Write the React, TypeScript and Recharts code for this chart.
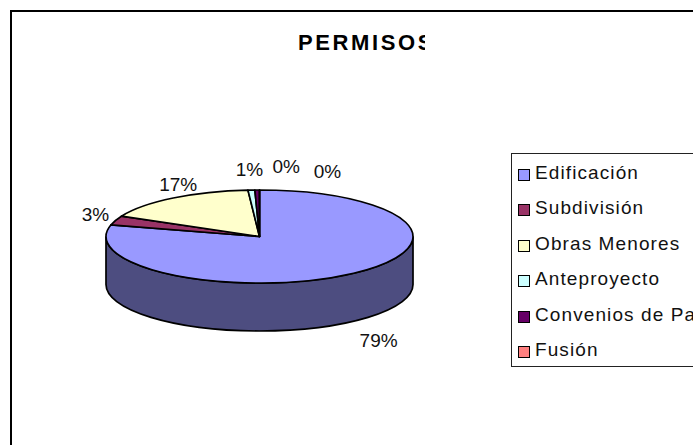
import { PieChart, Pie, Legend } from 'recharts';

const categories = ['Edificación', 'Subdivisión', 'Obras Menores', 'Anteproyecto', 'Convenios de Pa', 'Fusión'];
const shares = [79, 3.2, 16.6, 0.72, 0.48, 0];
const colors = ['#9999FF', '#993366', '#FFFFCC', '#CCFFFF', '#660066', '#FF8080'];

// how far each percent label sits from its slice edge, excel spreads the small ones out
const labelNudgeX = [25, -20, 5, -2, 29, 68];
const labelNudgeY = [67, -6, -14, -21, -24, -19];

const tableData = categories.map((name, i) => ({ name, value: shares[i], fill: colors[i] }));

const FONT = '"Liberation Sans", Arial, sans-serif';
const TILT = 46.5 / 153.5;
const DEPTH = 48;
const WALL = '#4D4D80';

const RAD = Math.PI / 180;
const ptX = (cx: number, r: number, a: number) => cx + r * Math.cos(a * RAD);
const ptY = (cy: number, r: number, a: number) => cy - r * TILT * Math.sin(a * RAD);

const FlatSlice = (props: any) => {
  const { cx, cy, outerRadius: r, startAngle, endAngle, fill } = props;
  const ry = r * TILT;
  const large = Math.abs(startAngle - endAngle) > 180 ? 1 : 0;
  const top = `M${cx},${cy} L${ptX(cx, r, startAngle)},${ptY(cy, r, startAngle)} A${r},${ry} 0 ${large} 1 ${ptX(cx, r, endAngle)},${ptY(cy, r, endAngle)} Z`;

  // the wall is only seen along the front half of the ellipse (180..360 going clockwise = -180..0)
  const from = Math.min(startAngle, 0);
  const to = Math.max(endAngle, -180);
  let wall = null;
  if (from > to) {
    const x1 = ptX(cx, r, from);
    const y1 = ptY(cy, r, from);
    const x2 = ptX(cx, r, to);
    const y2 = ptY(cy, r, to);
    wall = (
      <path
        d={`M${x1},${y1} A${r},${ry} 0 0 1 ${x2},${y2} L${x2},${y2 + DEPTH} A${r},${ry} 0 0 0 ${x1},${y1 + DEPTH} Z`}
        fill={WALL}
        stroke="#000"
        strokeWidth={1.7}
      />
    );
  }
  return (
    <g>
      {wall}
      <path d={top} fill={fill} stroke="#000" strokeWidth={1.7} strokeLinejoin="round" />
    </g>
  );
};

const renderLabel = (props: any) => {
  const { cx, cy, outerRadius, midAngle, percent, index } = props;
  return (
    <text
      x={ptX(cx, outerRadius, midAngle) + labelNudgeX[index]}
      y={ptY(cy, outerRadius, midAngle) + labelNudgeY[index]}
      textAnchor="middle"
      dominantBaseline="central"
      fontFamily={FONT}
      fontSize={19}
      fill="#111"
    >
      {`${Math.round(percent * 100)}%`}
    </text>
  );
};

const LegendBox = ({ payload }: any) => (
  <div
    style={{
      position: 'relative',
      boxSizing: 'border-box',
      width: 182,
      height: 214,
      border: '1px solid #222',
      borderRight: 'none',
      background: '#fff',
      fontFamily: FONT,
      fontSize: 19,
      letterSpacing: 1.1,
      color: '#111',
      whiteSpace: 'nowrap',
      paddingTop: 1,
      overflow: 'hidden',
    }}
  >
    {(payload || []).map((item: any) => (
      <div key={item.value} style={{ display: 'flex', alignItems: 'center', height: 35.5, paddingLeft: 6 }}>
        <span
          style={{
            display: 'inline-block',
            flexShrink: 0,
            boxSizing: 'border-box',
            width: 12,
            height: 12,
            marginRight: 5,
            marginTop: 4,
            background: item.color,
            border: '1.5px solid #000',
          }}
        />
        {item.value}
      </div>
    ))}
  </div>
);

export default function App() {
  return (
    <div style={{ position: 'absolute', left: 0, top: 0, width: 693, height: 445, overflow: 'hidden', background: '#fff' }}>
      <div
        style={{
          position: 'absolute',
          left: 10,
          top: 10,
          width: 683,
          height: 435,
          borderLeft: '2px solid #000',
          borderTop: '2px solid #000',
          boxSizing: 'border-box',
        }}
      />
      <div
        style={{
          position: 'absolute',
          left: 298,
          top: 30,
          width: 127,
          height: 26,
          overflow: 'hidden',
          fontFamily: FONT,
          fontWeight: 'bold',
          fontSize: 22,
          letterSpacing: 2.6,
          lineHeight: '26px',
          whiteSpace: 'nowrap',
          color: '#000',
        }}
      >
        PERMISOS
      </div>
      <PieChart
        width={693}
        height={445}
        margin={{ top: 0, right: 0, bottom: 0, left: 0 }}
        style={{ position: 'absolute', left: 0, top: 0 }}
      >
        <Pie
          data={tableData}
          dataKey="value"
          nameKey="name"
          cx={259.5}
          cy={236.5}
          outerRadius={153.5}
          startAngle={90}
          endAngle={-270}
          stroke="#000"
          shape={FlatSlice}
          label={renderLabel}
          labelLine={false}
          isAnimationActive={false}
        />
        <Legend
          layout="vertical"
          itemSorter={null}
          content={<LegendBox />}
          wrapperStyle={{ position: 'absolute', left: 511, top: 153, width: 182, height: 214 }}
        />
      </PieChart>
    </div>
  );
}
